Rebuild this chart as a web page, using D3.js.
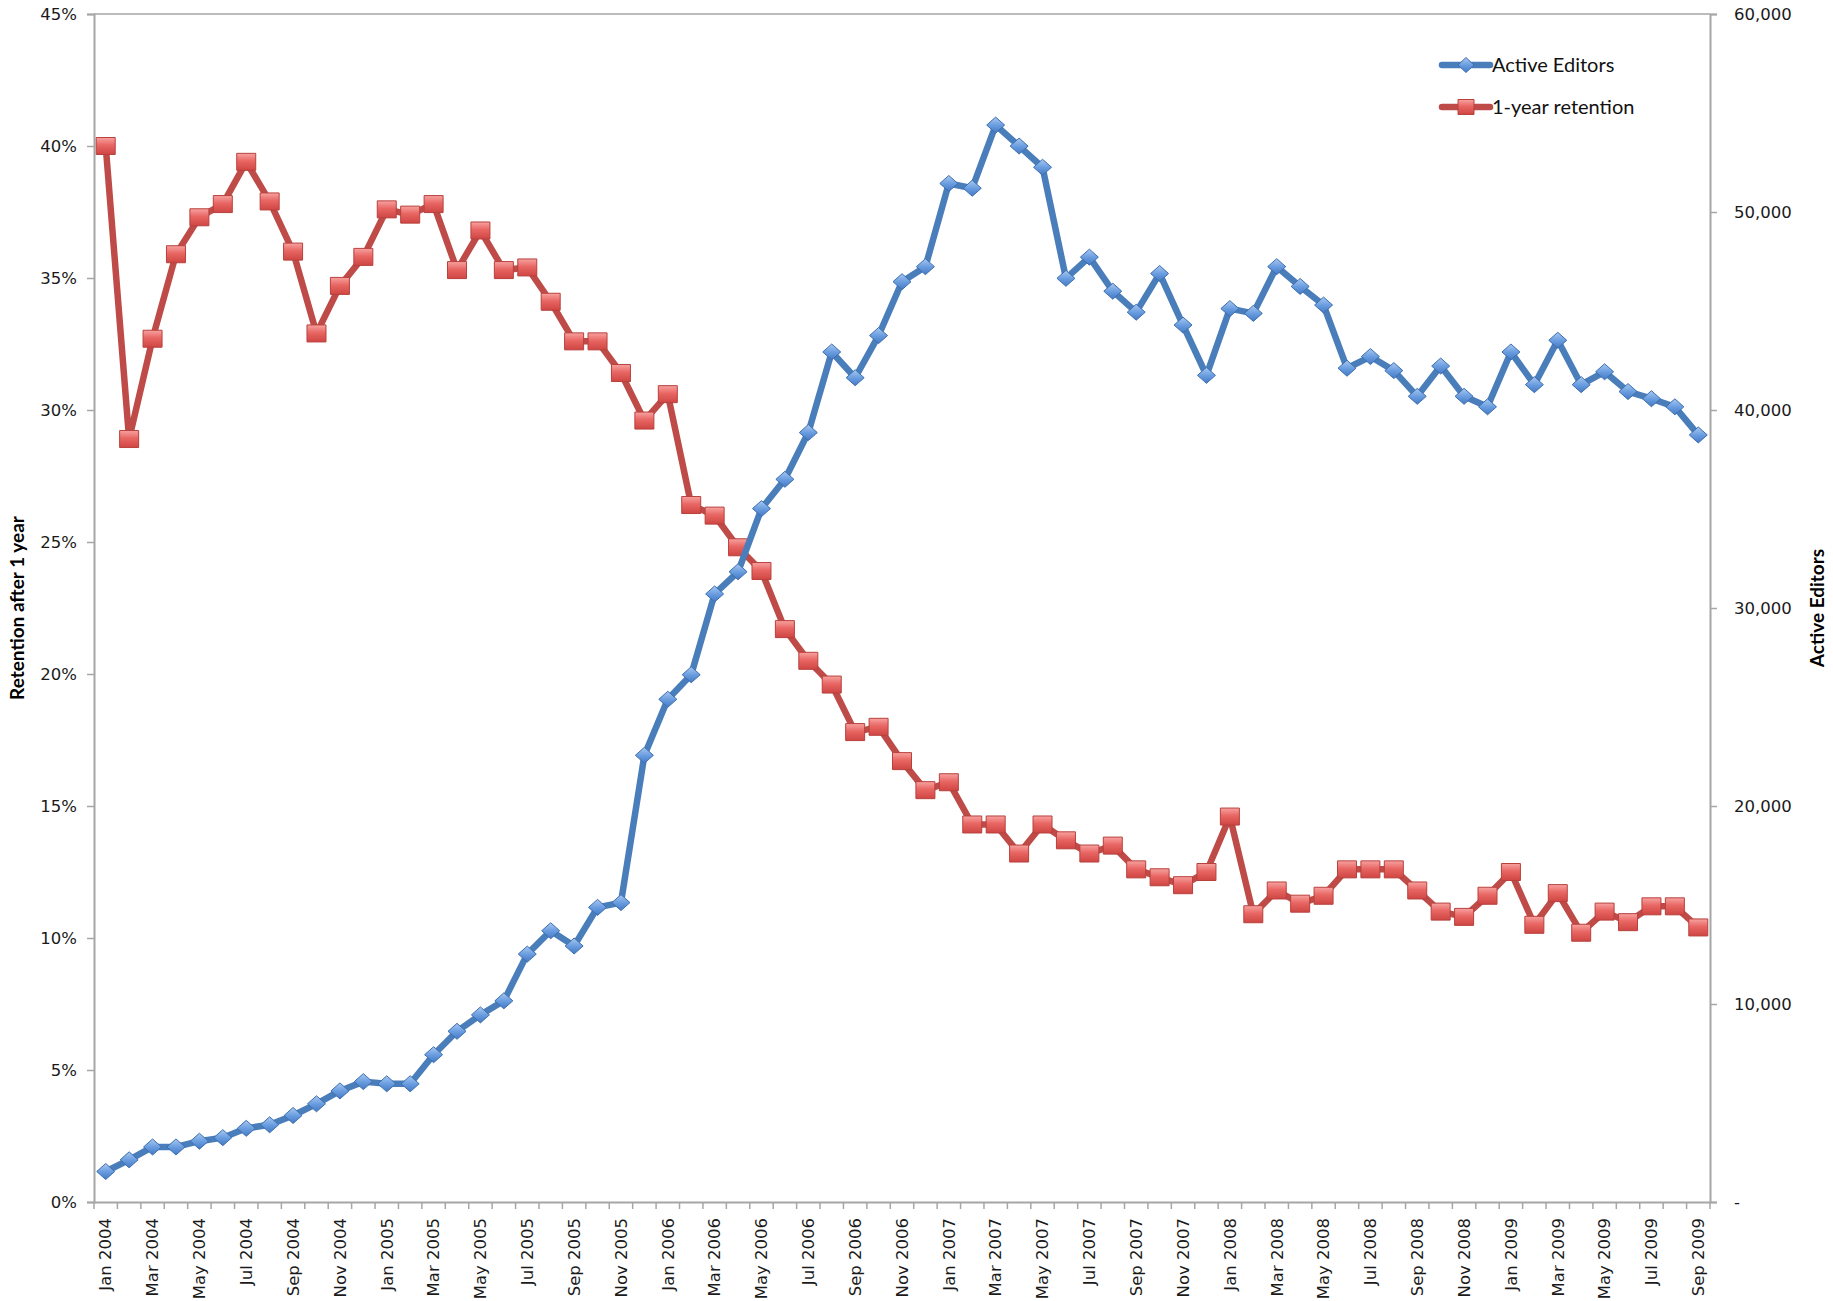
<!DOCTYPE html>
<html>
<head>
<meta charset="utf-8">
<title>Active Editors and 1-year retention</title>
<script src="https://d3js.org/d3.v7.min.js"></script>
<style>
  body { margin: 0; background: #fff; }
  .tick text { font-family: "DejaVu Sans", Verdana, sans-serif; font-size: 16.5px; fill: #1a1a1a; }
  .axis-title { font-family: Lato, "Open Sans", sans-serif; font-weight: bold; font-size: 19px; fill: #000; }
  .legend text { font-family: Lato, "Open Sans", sans-serif; font-size: 20px; fill: #111; }
</style>
</head>
<body>
<div id="chart"></div>
<script>
// months Jan 2004 .. Sep 2009
const months = ["Jan","Feb","Mar","Apr","May","Jun","Jul","Aug","Sep","Oct","Nov","Dec"];
const categories = [];
for (let y = 2004; y <= 2009; y++) {
  for (let m = 0; m < 12; m++) {
    if (y === 2009 && m > 8) break;
    categories.push(months[m] + " " + y);
  }
}

// 1-year retention (fraction)
const retention = [
  0.400, 0.289, 0.327, 0.359, 0.373, 0.378, 0.394, 0.379, 0.360, 0.329, 0.347, 0.358,
  0.376, 0.374, 0.378, 0.353, 0.368, 0.353, 0.354, 0.341, 0.326, 0.326, 0.314, 0.296,
  0.306, 0.264, 0.260, 0.248, 0.239, 0.217, 0.205, 0.196, 0.178, 0.180, 0.167, 0.156,
  0.159, 0.143, 0.143, 0.132, 0.143, 0.137, 0.132, 0.135, 0.126, 0.123, 0.120, 0.125,
  0.146, 0.109, 0.118, 0.113, 0.116, 0.126, 0.126, 0.126, 0.118, 0.110, 0.108, 0.116,
  0.125, 0.105, 0.117, 0.102, 0.110, 0.106, 0.112, 0.112, 0.104
];

// active editors
const editors = [
  1540, 2130, 2780, 2780, 3070, 3250, 3720, 3900, 4370, 4960, 5610, 6080,
  5970, 5970, 7440, 8620, 9450, 10160, 12520, 13700, 12930, 14880, 15120, 22560,
  25390, 26630, 30710, 31830, 35020, 36500, 38860, 42930, 41630, 43760, 46480, 47240,
  51440, 51200, 54390, 53330, 52260, 46650, 47720, 46000, 44940, 46890, 44290, 41750,
  45120, 44880, 47240, 46240, 45300, 42110, 42700, 41990, 40690, 42220, 40690, 40160,
  42930, 41280, 43520, 41280, 41930, 40930, 40570, 40160, 38740
];

const leftTicks = [0, 0.05, 0.10, 0.15, 0.20, 0.25, 0.30, 0.35, 0.40, 0.45];
const rightTicks = [0, 10000, 20000, 30000, 40000, 50000, 60000];

const width = 1833, height = 1301;
const plot = { left: 94, right: 1710, top: 14, bottom: 1202 };

const svg = d3.select("#chart").append("svg")
  .attr("width", width)
  .attr("height", height);

const defs = svg.append("defs");
const gBlue = defs.append("linearGradient").attr("id", "gBlue").attr("x1", 0).attr("y1", 0).attr("x2", 0).attr("y2", 1);
gBlue.append("stop").attr("offset", "0%").attr("stop-color", "#a9c8f0");
gBlue.append("stop").attr("offset", "50%").attr("stop-color", "#6b9ee0");
gBlue.append("stop").attr("offset", "100%").attr("stop-color", "#4479c4");
const gRed = defs.append("linearGradient").attr("id", "gRed").attr("x1", 0).attr("y1", 0).attr("x2", 0).attr("y2", 1);
gRed.append("stop").attr("offset", "0%").attr("stop-color", "#f7a3a1");
gRed.append("stop").attr("offset", "45%").attr("stop-color", "#e86663");
gRed.append("stop").attr("offset", "100%").attr("stop-color", "#cf4643");

const x = d3.scaleBand()
  .domain(categories)
  .range([plot.left, plot.right])
  .padding(0);
const cx = d => x(d) + x.bandwidth() / 2;

const yL = d3.scaleLinear().domain([0, 0.45]).range([plot.bottom, plot.top]);
const yR = d3.scaleLinear().domain([0, 60000]).range([plot.bottom, plot.top]);

const axisColor = "#a6a6a6";

// top border
svg.append("line")
  .attr("x1", plot.left).attr("x2", plot.right)
  .attr("y1", plot.top).attr("y2", plot.top)
  .attr("stroke", axisColor).attr("stroke-width", 1.5);

// left axis
const gl = svg.append("g")
  .attr("transform", "translate(" + plot.left + ",0)")
  .call(d3.axisLeft(yL).tickValues(leftTicks).tickFormat(d3.format(".0%")).tickSizeOuter(0).tickSize(7).tickPadding(10));

// right axis
const gr = svg.append("g")
  .attr("transform", "translate(" + plot.right + ",0)")
  .call(d3.axisRight(yR).tickValues(rightTicks)
    .tickFormat(d => d === 0 ? "-" : d3.format(",")(d))
    .tickSizeOuter(0).tickSize(7).tickPadding(17));

// bottom axis with labels every other month
const gx = svg.append("g")
  .attr("transform", "translate(0," + plot.bottom + ")")
  .call(d3.axisBottom(x).tickValues(categories.filter((d, i) => i % 2 === 0)).tickSize(0).tickSizeOuter(0).tickPadding(0));
gx.selectAll(".tick text")
  .attr("transform", "rotate(-90)")
  .attr("text-anchor", "end")
  .attr("x", -16)
  .attr("y", 0)
  .attr("dy", "0.35em");

// category boundary ticks
const bounds = categories.map(d => x(d)).concat([x.range()[1]]);
svg.append("g").selectAll("line")
  .data(bounds)
  .join("line")
  .attr("x1", d => d).attr("x2", d => d)
  .attr("y1", plot.bottom).attr("y2", plot.bottom + 7)
  .attr("stroke", axisColor).attr("stroke-width", 1.5);

[gl, gr, gx].forEach(g => {
  g.selectAll(".domain").attr("stroke", axisColor).attr("stroke-width", 2);
  g.selectAll(".tick line").attr("stroke", axisColor).attr("stroke-width", 1.5);
});

// axis titles
svg.append("text")
  .attr("class", "axis-title")
  .attr("transform", "translate(24," + (plot.top + plot.bottom) / 2 + ") rotate(-90)")
  .attr("text-anchor", "middle")
  .text("Retention after 1 year");
svg.append("text")
  .attr("class", "axis-title")
  .attr("transform", "translate(1824," + (plot.top + plot.bottom) / 2 + ") rotate(-90)")
  .attr("text-anchor", "middle")
  .text("Active Editors");

// shapes
const diamond = (w, h) => "M0," + (-h) + "L" + w + ",0L0," + h + "L" + (-w) + ",0Z";
const square = (w, h) => "M" + (-w) + "," + (-h) + "H" + w + "V" + h + "H" + (-w) + "Z";

// retention line (left axis)
const lineL = d3.line().x((d, i) => cx(categories[i])).y(d => yL(d));
svg.append("path")
  .datum(retention)
  .attr("d", lineL)
  .attr("fill", "none")
  .attr("stroke", "#be4b48")
  .attr("stroke-width", 6.5)
  .attr("stroke-linejoin", "round");

svg.append("g").selectAll("path")
  .data(retention)
  .join("path")
  .attr("transform", (d, i) => "translate(" + cx(categories[i]) + "," + yL(d) + ")")
  .attr("d", square(9.5, 8.5))
  .attr("fill", "url(#gRed)")
  .attr("stroke", "#b8403d")
  .attr("stroke-width", 1);

// editors line (right axis)
const lineR = d3.line().x((d, i) => cx(categories[i])).y(d => yR(d));
svg.append("path")
  .datum(editors)
  .attr("d", lineR)
  .attr("fill", "none")
  .attr("stroke", "#4a7ebb")
  .attr("stroke-width", 6.5)
  .attr("stroke-linejoin", "round");

svg.append("g").selectAll("path")
  .data(editors)
  .join("path")
  .attr("transform", (d, i) => "translate(" + cx(categories[i]) + "," + yR(d) + ")")
  .attr("d", diamond(9, 8))
  .attr("fill", "url(#gBlue)")
  .attr("stroke", "#3d6fb0")
  .attr("stroke-width", 1);

// legend
const legendItems = [
  { name: "Active Editors", color: "#4a7ebb", fill: "url(#gBlue)", stroke: "#3d6fb0", shape: diamond(8, 7.5) },
  { name: "1-year retention", color: "#be4b48", fill: "url(#gRed)", stroke: "#b8403d", shape: square(8, 7.5) }
];
const legend = svg.append("g").attr("class", "legend")
  .attr("transform", "translate(1442,65)");
const li = legend.selectAll("g").data(legendItems).join("g")
  .attr("transform", (d, i) => "translate(0," + i * 42 + ")");
li.append("line")
  .attr("x1", 0).attr("x2", 48)
  .attr("stroke", d => d.color).attr("stroke-width", 6.5).attr("stroke-linecap", "round");
li.append("path")
  .attr("transform", "translate(24,0)")
  .attr("d", d => d.shape)
  .attr("fill", d => d.fill)
  .attr("stroke", d => d.stroke);
li.append("text")
  .attr("x", 50).attr("dy", "0.36em")
  .text(d => d.name);
</script>
</body>
</html>
